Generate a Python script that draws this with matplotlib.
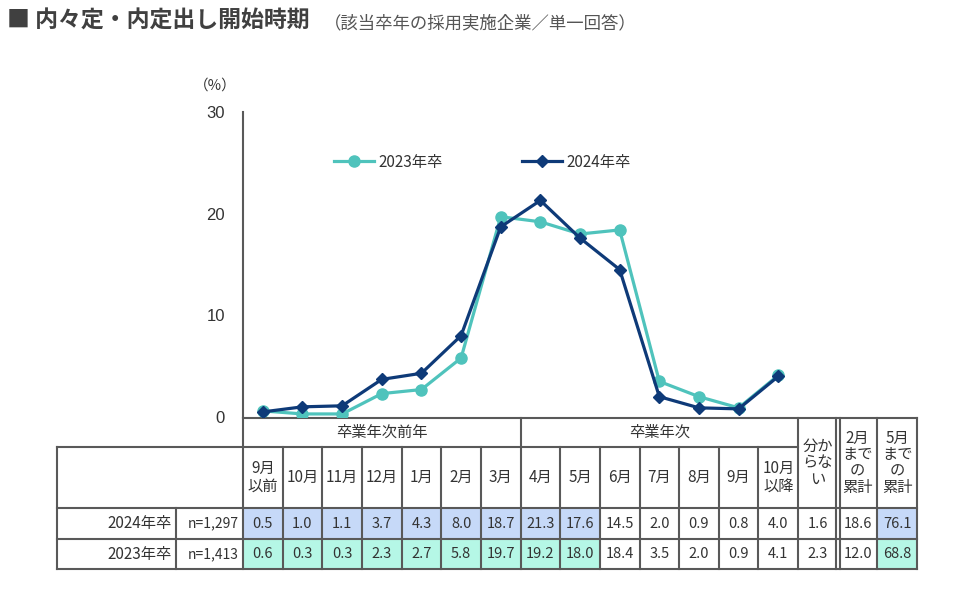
import matplotlib
matplotlib.use("Agg")
import matplotlib.pyplot as plt

plt.rcParams['font.family'] = ['Noto Sans CJK JP', 'DejaVu Sans']

# data
months = ["9月\n以前", "10月", "11月", "12月", "1月", "2月", "3月",
          "4月", "5月", "6月", "7月", "8月", "9月", "10月\n以降"]
extra_cols = ["分か\nらな\nい", "2月\nまで\nの\n累計", "5月\nまで\nの\n累計"]
v2024 = [0.5, 1.0, 1.1, 3.7, 4.3, 8.0, 18.7, 21.3, 17.6, 14.5, 2.0, 0.9, 0.8, 4.0]
v2023 = [0.6, 0.3, 0.3, 2.3, 2.7, 5.8, 19.7, 19.2, 18.0, 18.4, 3.5, 2.0, 0.9, 4.1]
extra2024 = [1.6, 18.6, 76.1]
extra2023 = [2.3, 12.0, 68.8]
groups = ["卒業年次前年", "卒業年次"]
row_labels = ["2024年卒", "2023年卒"]
row_n = ["n=1,297", "n=1,413"]

c2023 = "#4fc3bc"
c2024 = "#0e3a78"
fill2024 = "#c6d9f8"
fill2023 = "#b5f7e6"
grid_c = "#595959"
txt_c = "#333333"

W, H = 975, 594
fig = plt.figure(figsize=(W / 100, H / 100), dpi=100)

# layout in pixels
x0 = 243
cw = 39.65
ncols = len(months) + len(extra_cols)
y_top, y_grp, y_hdr, y_r1, y_r2 = 418, 447, 508, 539, 569
chart_top = 112


def fx(px):
    return px / W


def fy(py):
    return 1 - py / H


# chart
ax = fig.add_axes([fx(x0), fy(y_top - 1), ncols * cw / W, (y_top - 1 - chart_top) / H])
xs = list(range(len(months)))
ax.plot(xs, v2023, color=c2023, lw=2.3, marker="o", ms=8, label="2023年卒", zorder=3)
ax.plot(xs, v2024, color=c2024, lw=2.3, marker="D", ms=6.5, label="2024年卒", zorder=4)
ax.set_xlim(-0.5, ncols - 0.5)
ax.set_ylim(0, 30)
ax.set_yticks([0, 10, 20, 30])
ax.set_xticks([])
ax.tick_params(axis="y", length=0, pad=13, labelsize=12, labelcolor=txt_c)
for lab in ax.get_yticklabels():
    lab.set_family(['Liberation Sans', 'DejaVu Sans'])
for s in ["top", "right", "bottom"]:
    ax.spines[s].set_visible(False)
ax.spines["left"].set_color(grid_c)
ax.spines["left"].set_linewidth(1.5)
ax.patch.set_alpha(0)
ax.legend(loc="center", bbox_to_anchor=(0.355, 0.835), ncol=2, frameon=False,
          fontsize=11, columnspacing=5.2, handlelength=2.6, handletextpad=0.3,
          labelcolor=txt_c)
fig.text(fx(194), fy(86), "（%）", fontsize=10.5, color=txt_c, va="center")

# table overlay
tb = fig.add_axes([0, 0, 1, 1], zorder=-1)
tb.set_xlim(0, W)
tb.set_ylim(H, 0)
tb.axis("off")

edges = [x0 + i * cw for i in range(ncols + 1)]
x_right = edges[-1]
nm = len(months)


def hline(y, xa, xb):
    tb.plot([xa, xb], [y, y], color=grid_c, lw=1.5, solid_capstyle="projecting")


def vline(x, ya, yb):
    tb.plot([x, x], [ya, yb], color=grid_c, lw=1.5, solid_capstyle="projecting")


# fills
fills = [fill2024, fill2023]
for r, (ya, yb) in enumerate([(y_hdr, y_r1), (y_r1, y_r2)]):
    for c in list(range(9)) + [ncols - 1]:
        tb.fill_between([edges[c], edges[c + 1]], ya, yb, color=fills[r], lw=0)

hline(y_top, x0, x_right)
hline(y_grp, 57, edges[nm])
hline(y_hdr, 57, x_right)
hline(y_r1, 57, x_right)
hline(y_r2, 57, x_right)
vline(57, y_grp, y_r2)
vline(176, y_hdr, y_r2)
vline(x0, y_top, y_r2)
vline(edges[7], y_top, y_r2)
for i in range(1, nm):
    if i != 7:
        vline(edges[i], y_grp, y_r2)
vline(edges[nm], y_top, y_r2)
vline(edges[nm + 1] - 2, y_top, y_r2)
vline(edges[nm + 1] + 2, y_top, y_r2)
vline(edges[nm + 2], y_top, y_r2)
vline(x_right, y_top, y_r2)

fs = 10.5
hfs = 11
tb.text((edges[0] + edges[7]) / 2, (y_top + y_grp) / 2, groups[0], ha="center", va="center",
        fontsize=hfs, color=txt_c)
tb.text((edges[7] + edges[nm]) / 2, (y_top + y_grp) / 2, groups[1], ha="center", va="center",
        fontsize=hfs, color=txt_c)
for i, lab in enumerate(months):
    tb.text((edges[i] + edges[i + 1]) / 2, (y_grp + y_hdr) / 2, lab, ha="center", va="center",
            fontsize=hfs, color=txt_c, linespacing=1.05)
for j, lab in enumerate(extra_cols):
    c = nm + j
    tb.text((edges[c] + edges[c + 1]) / 2, (y_top + y_hdr) / 2, lab, ha="center", va="center",
            fontsize=hfs, color=txt_c, linespacing=0.95)

rows = [v2024 + extra2024, v2023 + extra2023]
for r, (ya, yb) in enumerate([(y_hdr, y_r1), (y_r1, y_r2)]):
    ym = (ya + yb) / 2
    tb.text(172, ym, row_labels[r], ha="right", va="center", fontsize=11, color=txt_c)
    tb.text(239, ym, row_n[r], ha="right", va="center", fontsize=10, color=txt_c)
    for c, v in enumerate(rows[r]):
        tb.text((edges[c] + edges[c + 1]) / 2, ym, f"{v:.1f}", ha="center", va="center",
                fontsize=fs, color=txt_c)

# title
fig.text(fx(7), fy(21), "■ 内々定・内定出し開始時期", fontsize=16.5, fontweight="bold",
         color="#404040", va="center")
fig.text(fx(324), fy(23), "（該当卒年の採用実施企業／単一回答）", fontsize=12.5,
         color="#555555", va="center")

fig.savefig("out.png", dpi=100, facecolor="white")
